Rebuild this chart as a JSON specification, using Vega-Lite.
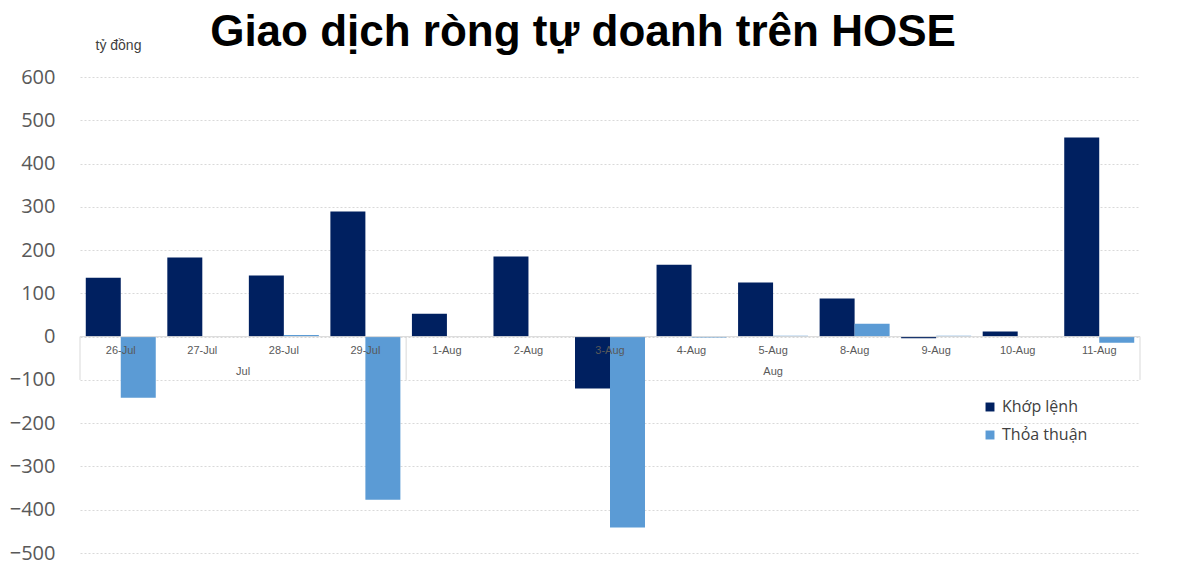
{
  "$schema": "https://vega.github.io/schema/vega-lite/v6.json",
  "width": 1060,
  "height": 476,
  "autosize": {"type": "none"},
  "padding": {"left": 80, "top": 77, "right": 60, "bottom": 22},
  "background": "white",
  "title": {
    "text": "Giao dịch ròng tự doanh trên HOSE",
    "font": "Liberation Sans",
    "fontSize": 44,
    "fontWeight": "bold",
    "color": "#000000",
    "anchor": "middle",
    "dx": -27,
    "offset": -17
  },
  "data": {
    "values": [
      {"ngay": "26-Jul", "loai": "Khớp lệnh", "gt": 136},
      {"ngay": "26-Jul", "loai": "Thỏa thuận", "gt": -141},
      {"ngay": "27-Jul", "loai": "Khớp lệnh", "gt": 183},
      {"ngay": "27-Jul", "loai": "Thỏa thuận", "gt": 0},
      {"ngay": "28-Jul", "loai": "Khớp lệnh", "gt": 141},
      {"ngay": "28-Jul", "loai": "Thỏa thuận", "gt": 4},
      {"ngay": "29-Jul", "loai": "Khớp lệnh", "gt": 289},
      {"ngay": "29-Jul", "loai": "Thỏa thuận", "gt": -377},
      {"ngay": "1-Aug", "loai": "Khớp lệnh", "gt": 53},
      {"ngay": "1-Aug", "loai": "Thỏa thuận", "gt": 0},
      {"ngay": "2-Aug", "loai": "Khớp lệnh", "gt": 185},
      {"ngay": "2-Aug", "loai": "Thỏa thuận", "gt": 0},
      {"ngay": "3-Aug", "loai": "Khớp lệnh", "gt": -120},
      {"ngay": "3-Aug", "loai": "Thỏa thuận", "gt": -441},
      {"ngay": "4-Aug", "loai": "Khớp lệnh", "gt": 166},
      {"ngay": "4-Aug", "loai": "Thỏa thuận", "gt": -2},
      {"ngay": "5-Aug", "loai": "Khớp lệnh", "gt": 125},
      {"ngay": "5-Aug", "loai": "Thỏa thuận", "gt": 2},
      {"ngay": "8-Aug", "loai": "Khớp lệnh", "gt": 88},
      {"ngay": "8-Aug", "loai": "Thỏa thuận", "gt": 30},
      {"ngay": "9-Aug", "loai": "Khớp lệnh", "gt": -4},
      {"ngay": "9-Aug", "loai": "Thỏa thuận", "gt": 2},
      {"ngay": "10-Aug", "loai": "Khớp lệnh", "gt": 12},
      {"ngay": "10-Aug", "loai": "Thỏa thuận", "gt": 0},
      {"ngay": "11-Aug", "loai": "Khớp lệnh", "gt": 460},
      {"ngay": "11-Aug", "loai": "Thỏa thuận", "gt": -14}
    ]
  },
  "encoding": {
    "x": {
      "field": "ngay",
      "type": "nominal",
      "sort": null,
      "scale": {"paddingInner": 0, "paddingOuter": 0},
      "axis": {
        "title": null,
        "orient": "bottom",
        "offset": -216,
        "domain": false,
        "ticks": false,
        "labelAngle": 0,
        "labelFont": "Liberation Sans",
        "labelFontSize": 11,
        "labelColor": "#595959",
        "labelPadding": 7,
        "zindex": 1
      }
    }
  },
  "layer": [
    {
      "mark": {"type": "bar"},
      "encoding": {
        "xOffset": {
          "field": "loai",
          "type": "nominal",
          "scale": {"paddingInner": 0, "paddingOuter": 0.165}
        },
        "y": {
          "field": "gt",
          "type": "quantitative",
          "scale": {"domain": [-500, 600], "nice": false, "zero": false},
          "axis": {
            "values": [-500, -400, -300, -200, -100, 0, 100, 200, 300, 400, 500, 600],
            "title": "tỷ đồng",
            "titleAngle": 0,
            "titleX": 15,
            "titleY": -32,
            "titleAlign": "left",
            "titleBaseline": "middle",
            "titleFont": "Liberation Sans",
            "titleFontSize": 14,
            "titleFontWeight": "normal",
            "titleColor": "#404040",
            "domain": false,
            "ticks": false,
            "labelFont": "Open Sans",
            "labelFontSize": 20,
            "labelColor": "#595959",
            "labelPadding": 25,
            "grid": true,
            "gridColor": "#d9d9d9",
            "gridDash": [2, 2],
            "gridWidth": 1
          }
        },
        "color": {
          "field": "loai",
          "type": "nominal",
          "scale": {"domain": ["Khớp lệnh", "Thỏa thuận"], "range": ["#002060", "#5b9bd5"]},
          "legend": {
            "title": null,
            "orient": "none",
            "legendX": 902,
            "legendY": 322,
            "symbolType": "square",
            "symbolSize": 80,
            "symbolStrokeWidth": 0,
            "labelFont": "Open Sans",
            "labelFontSize": 16,
            "labelColor": "#404040",
            "rowPadding": 12,
            "labelOffset": 4
          }
        }
      }
    },
    {
      "data": {"values": [{"v": 0}]},
      "mark": {"type": "rule", "color": "#d9d9d9", "strokeWidth": 1},
      "encoding": {"y": {"field": "v", "type": "quantitative"}, "x": {"value": 0}, "x2": {"value": 1060}}
    },
    {
      "data": {"values": [{"ngay": "26-Jul", "a": 0, "b": -100}, {"ngay": "1-Aug", "a": 0, "b": -100}]},
      "mark": {"type": "rule", "color": "#d9d9d9", "strokeWidth": 1},
      "encoding": {
        "x": {"field": "ngay", "type": "nominal", "bandPosition": 0},
        "y": {"field": "a", "type": "quantitative"},
        "y2": {"field": "b"}
      }
    },
    {
      "data": {"values": [{"ngay": "11-Aug", "a": 0, "b": -100}]},
      "mark": {"type": "rule", "color": "#d9d9d9", "strokeWidth": 1},
      "encoding": {
        "x": {"field": "ngay", "type": "nominal", "bandPosition": 1},
        "y": {"field": "a", "type": "quantitative"},
        "y2": {"field": "b"}
      }
    },
    {
      "data": {"values": [{"ngay": "28-Jul", "thang": "Jul", "v": 0}]},
      "mark": {"type": "text", "font": "Liberation Sans", "fontSize": 11, "color": "#595959", "baseline": "middle", "dy": 35},
      "encoding": {
        "x": {"field": "ngay", "type": "nominal", "bandPosition": 0},
        "y": {"field": "v", "type": "quantitative"},
        "text": {"field": "thang"}
      }
    },
    {
      "data": {"values": [{"ngay": "5-Aug", "thang": "Aug", "v": 0}]},
      "mark": {"type": "text", "font": "Liberation Sans", "fontSize": 11, "color": "#595959", "baseline": "middle", "dy": 35},
      "encoding": {
        "x": {"field": "ngay", "type": "nominal", "bandPosition": 0.5},
        "y": {"field": "v", "type": "quantitative"},
        "text": {"field": "thang"}
      }
    }
  ],
  "config": {"view": {"stroke": null}}
}
